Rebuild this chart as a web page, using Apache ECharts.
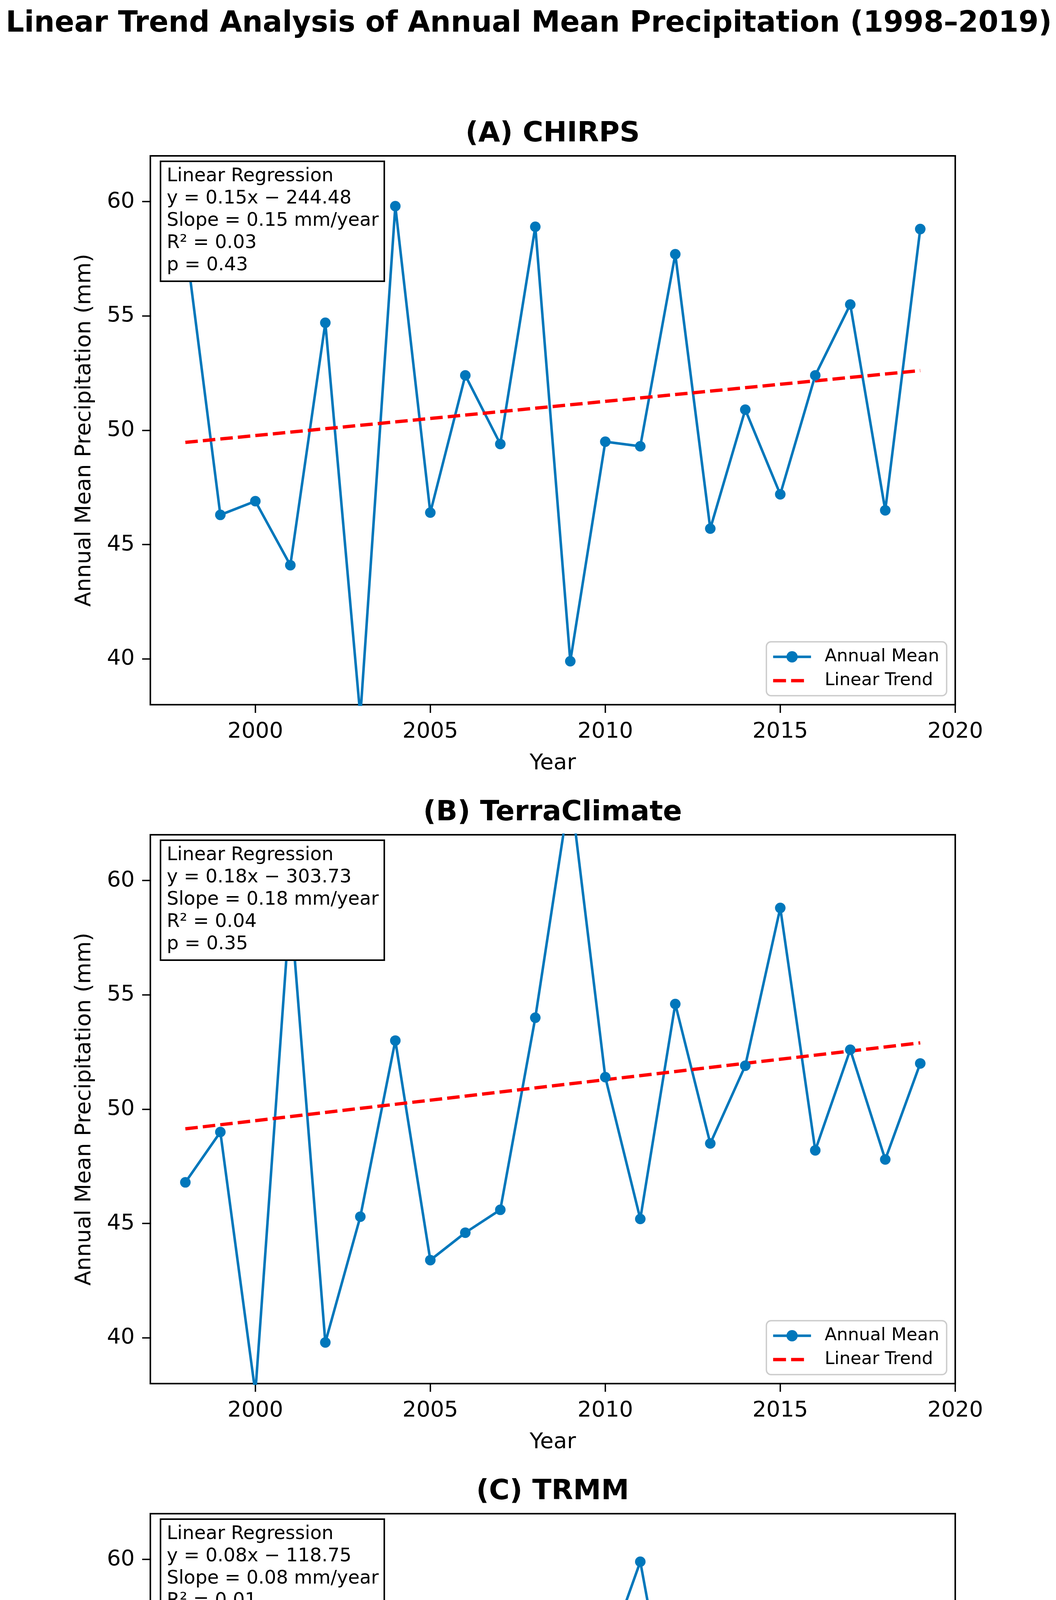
<!DOCTYPE html>
<html>
<head>
<meta charset="utf-8">
<title>Linear Trend Analysis of Annual Mean Precipitation</title>
<script src="https://cdn.jsdelivr.net/npm/echarts@6.0.0/dist/echarts.min.js"></script>
<style>
  html, body { margin: 0; padding: 0; background: #fff; }
  #container { width: 2704px; height: 5478px; }
</style>
</head>
<body>
<div id="container"></div>
<script>
"use strict";

// data
const years = [1998, 1999, 2000, 2001, 2002, 2003, 2004, 2005, 2006, 2007, 2008,
  2009, 2010, 2011, 2012, 2013, 2014, 2015, 2016, 2017, 2018, 2019];

const chirps = [58.3, 46.3, 46.9, 44.1, 54.7, 37.5, 59.8, 46.4, 52.4, 49.4, 58.9,
  39.9, 49.5, 49.3, 57.7, 45.7, 50.9, 47.2, 52.4, 55.5, 46.5, 58.8];
const terraClimate = [46.8, 49.0, 37.6, 59.0, 39.8, 45.3, 53.0, 43.4, 44.6, 45.6, 54.0,
  64.0, 51.4, 45.2, 54.6, 48.5, 51.9, 58.8, 48.2, 52.6, 47.8, 52.0];
const trmm = [59.2, 52.4, 50.8, 41.0, 49.1, 48.8, 50.2, 47.6, 50.6, 48.5, 44.3,
  55.5, 55.6, 59.9, 51.6, 49.3, 48.7, 43.7, 56.6, 46.1, 45.8, 50.8];

// trend line values at first and last year
const trendYears = [1998, 2019];
const chirpsTrend = [49.47, 52.61];
const terraTrend = [49.14, 52.90];
const trmmTrend = [50.19, 51.86];

const panelTitles = ["(A) CHIRPS", "(B) TerraClimate", "(C) TRMM"];
const slopes = ["0.15", "0.18", "0.08"];
const intercepts = ["244.48", "303.73", "118.75"];
const rSquared = ["0.03", "0.04", "0.01"];
const pValues = ["0.43", "0.35", "0.63"];

const xTicks = [2000, 2005, 2010, 2015, 2020];
const yTicks = [40, 45, 50, 55, 60];

const FONT = "DejaVu Sans";
const BLUE = "#0077bb";
const RED = "#ff0000";

let myChart = echarts.init(document.getElementById('container'), null, {
  renderer: 'canvas', width: 2704, height: 5478, devicePixelRatio: 1,
});

const seriesValues = [chirps, terraClimate, trmm];
const trendValues = [chirpsTrend, terraTrend, trmmTrend];
const offsets = [0, 1738, 3476];

let titles = [{
  text: "Linear Trend Analysis of Annual Mean Precipitation (1998–2019)",
  left: 1354, top: 25, textAlign: 'center', padding: 0,
  textStyle: { fontFamily: FONT, fontWeight: 'bold', fontSize: 74, lineHeight: 74, color: '#000' },
}];
let grids = [], xAxes = [], yAxes = [], series = [], legends = [], graphics = [];

panelTitles.forEach((name, i) => {
  const off = offsets[i];

  titles.push({
    text: name, left: 1415, top: 307 + off, textAlign: 'center', padding: 0,
    textStyle: { fontFamily: FONT, fontWeight: 'bold', fontSize: 72, lineHeight: 72, color: '#000' },
  });

  grids.push({
    left: 385, top: 399 + off, width: 2061, height: 1405,
    show: true, borderColor: '#000', borderWidth: 4, backgroundColor: 'transparent',
  });

  xAxes.push({
    type: 'value', gridIndex: i, min: 1997, max: 2020,
    name: "Year", nameLocation: 'middle', nameGap: 122,
    nameTextStyle: { fontFamily: FONT, fontSize: 56, color: '#000' },
    axisLine: { show: false },
    axisTick: { show: true, length: 21, customValues: xTicks, lineStyle: { color: '#000', width: 3.5 } },
    axisLabel: {
      customValues: xTicks, margin: 41, fontFamily: FONT, fontSize: 56, color: '#000',
      formatter: (v) => String(v),
    },
    splitLine: { show: false },
  });

  yAxes.push({
    type: 'value', gridIndex: i, min: 38, max: 62,
    name: "Annual Mean Precipitation (mm)", nameLocation: 'middle', nameGap: 141,
    nameTextStyle: { fontFamily: FONT, fontSize: 56, color: '#000' },
    axisLine: { show: false },
    axisTick: { show: true, length: 21, customValues: yTicks, lineStyle: { color: '#000', width: 3.5 } },
    axisLabel: {
      customValues: yTicks, margin: 40, fontFamily: FONT, fontSize: 56, color: '#000',
      formatter: (v) => String(v),
    },
    splitLine: { show: false },
  });

  series.push({
    name: "Annual Mean", type: 'line', xAxisIndex: i, yAxisIndex: i,
    data: years.map((y, k) => [y, seriesValues[i][k]]),
    symbol: 'circle', symbolSize: 27, clip: true,
    lineStyle: { color: BLUE, width: 6.5 },
    itemStyle: { color: BLUE, borderWidth: 0 },
    emphasis: { disabled: true },
  });
  series.push({
    name: "Linear Trend", type: 'line', xAxisIndex: i, yAxisIndex: i,
    data: trendYears.map((y, k) => [y, trendValues[i][k]]),
    symbol: 'none', clip: true,
    lineStyle: { color: RED, width: 8.5, type: [32, 13] },
    itemStyle: { color: RED, borderWidth: 0 },
    emphasis: { disabled: true },
  });

  legends.push({
    orient: 'vertical', right: 280, top: 1643 + off,
    selectedMode: false,
    itemWidth: 97, itemHeight: 36, itemGap: 16,
    padding: [16, 19, 16, 14],
    backgroundColor: 'rgba(255,255,255,0.8)',
    borderColor: '#cccccc', borderWidth: 3.5, borderRadius: 12,
    textStyle: { fontFamily: FONT, fontSize: 45, color: '#000', padding: [0, 0, 0, 30] },
    itemStyle: { borderWidth: 0 },
    lineStyle: { width: 6.5 },
    data: [
      { name: "Annual Mean", lineStyle: { width: 6.5, color: BLUE } },
      { name: "Linear Trend", icon: 'path://M0,0H33V8.5H0ZM46,0H79V8.5H46ZM97,4.25Z' },
    ],
  });

  // regression statistics box
  const lines = [
    "Linear Regression",
    "y = " + slopes[i] + "x − " + intercepts[i],
    "Slope = " + slopes[i] + " mm/year",
    "R² = " + rSquared[i],
    "p = " + pValues[i],
  ];
  graphics.push({
    type: 'rect', z: 100,
    shape: { x: 411, y: 413 + off, width: 573, height: 307 },
    style: { fill: '#fff', stroke: '#000', lineWidth: 4 },
  });
  graphics.push({
    type: 'text', z: 101, x: 427, y: 423 + off,
    style: {
      text: lines.join('\n'), fontFamily: FONT, fontSize: 48, lineHeight: 57,
      fill: '#000', verticalAlign: 'top',
    },
  });
});

let option = {
  animation: false,
  backgroundColor: '#fff',
  title: titles,
  grid: grids,
  xAxis: xAxes,
  yAxis: yAxes,
  legend: legends,
  series: series,
  graphic: graphics,
};

myChart.setOption(option);
</script>
</body>
</html>
